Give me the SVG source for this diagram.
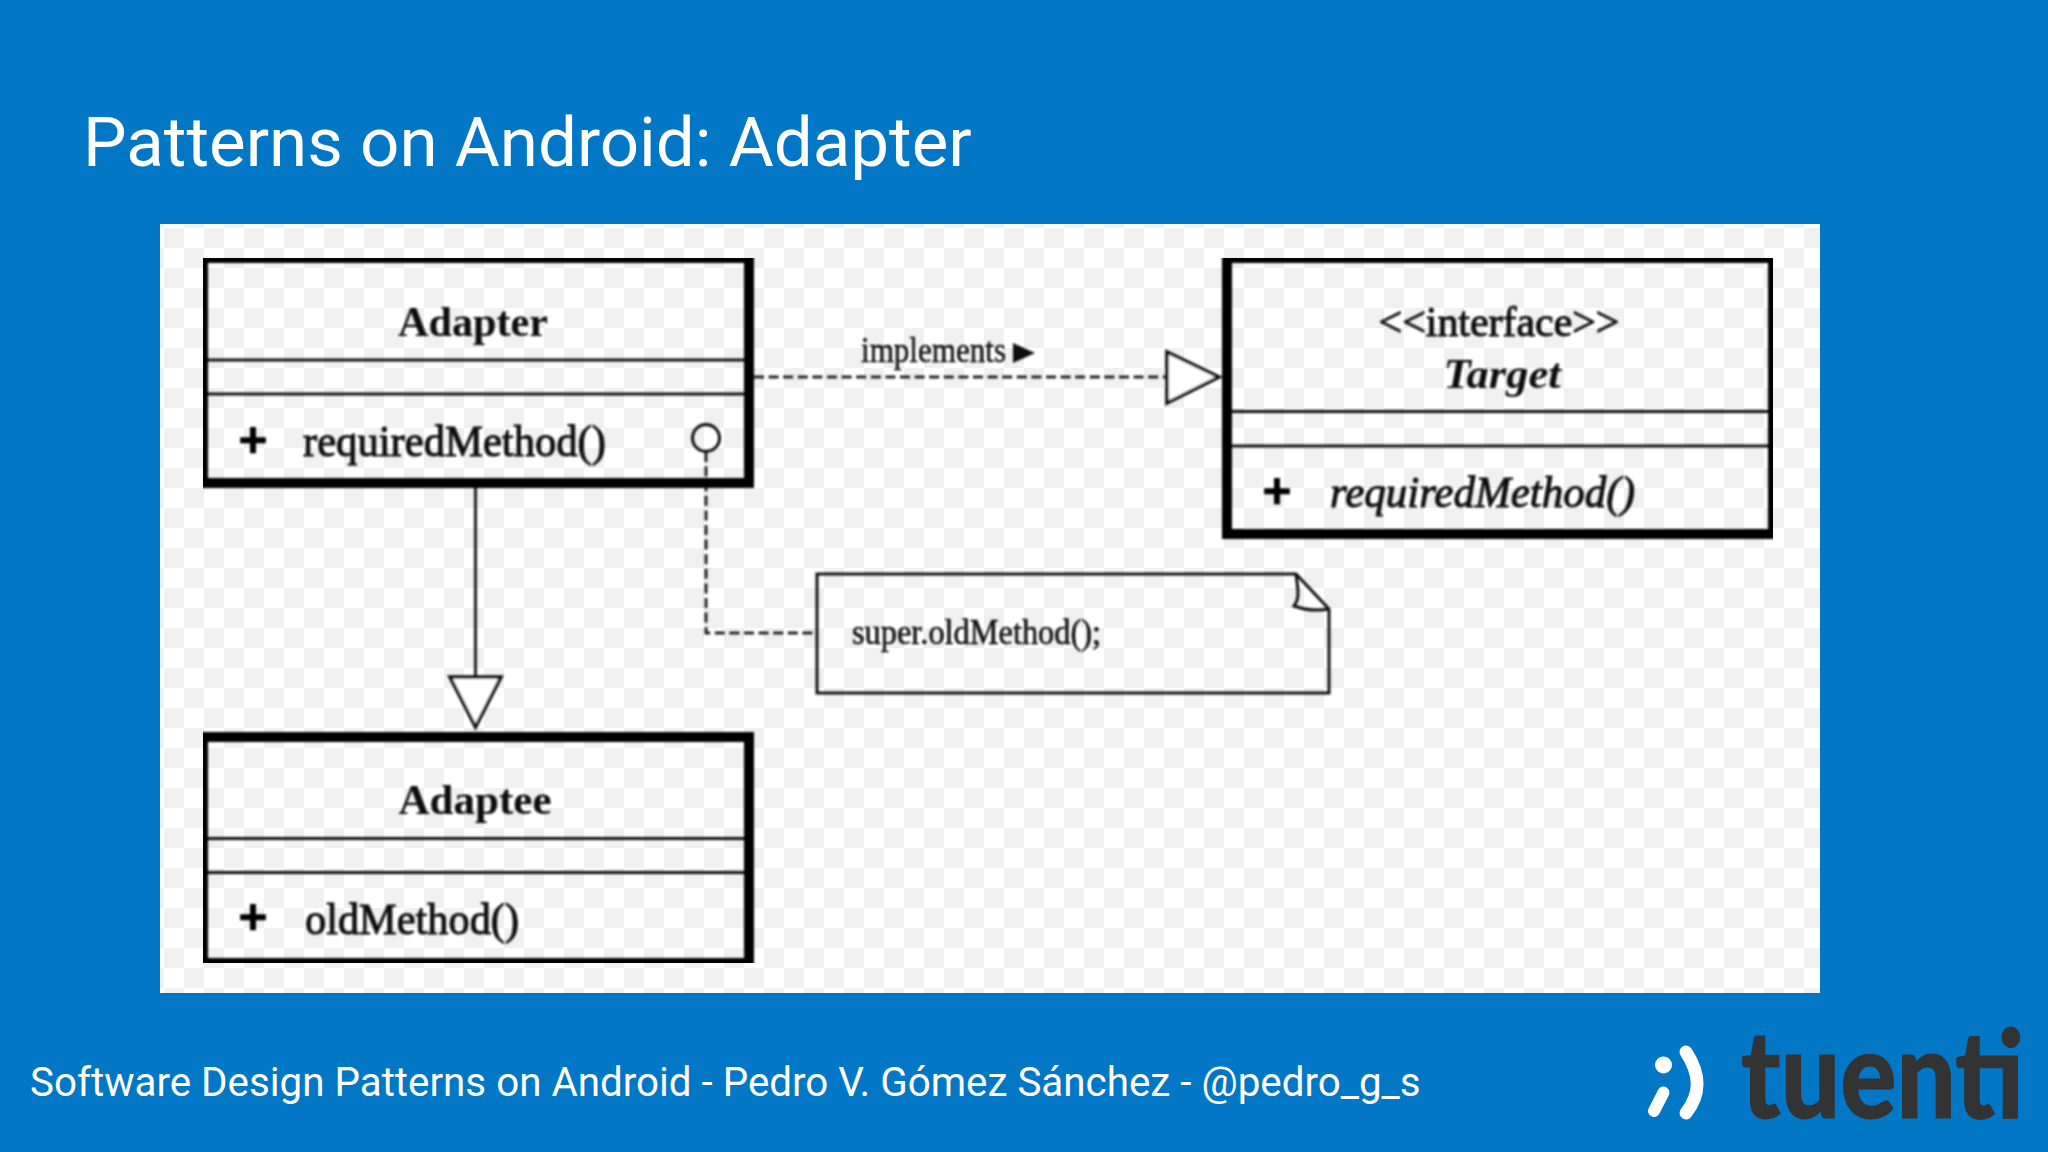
<svg xmlns="http://www.w3.org/2000/svg" width="2048" height="1152" viewBox="0 0 2048 1152">
<style>
.box{fill:none;stroke:#000;stroke-width:10}
.sep{stroke:#111;stroke-width:3;fill:none}
.con{stroke:#222;stroke-width:3;fill:none}
.dash{stroke-dasharray:10 4.6}
.head{fill:#fff;stroke:#111;stroke-width:3.5}
.s{font-family:"Liberation Serif",serif;fill:#0a0a0a}
.b{font-weight:700}
.m{stroke:#0a0a0a;stroke-width:1}
.p{stroke:#000;stroke-width:2.5}
.r{font-family:Roboto,sans-serif;fill:#fff}
</style>
<defs>
<pattern id="ck" width="40" height="40" patternUnits="userSpaceOnUse" x="164" y="228">
<rect width="40" height="40" fill="#fff"/>
<rect width="20" height="20" fill="#f1f1f1"/>
<rect x="20" y="20" width="20" height="20" fill="#f1f1f1"/>
</pattern>
<filter id="soft" x="0" y="0" width="1" height="1"><feGaussianBlur stdDeviation="0.8"/></filter>
</defs>
<rect width="2048" height="1152" fill="#0277c6"/>
<text id="title" class="r" x="83" y="166" font-size="69.1">Patterns on Android: Adapter</text>
<rect x="160" y="224" width="1660" height="769" fill="url(#ck)"/>
<g filter="url(#soft)">
<g id="connectors">
<path class="con dash" d="M754 377H1166"/>
<path class="head" d="M1167 352V403L1219 377Z"/>
<path class="con" d="M475.500 488V677"/>
<path class="head" d="M450 677H501L475.500 727Z"/>
<circle cx="706" cy="438" r="13.500" fill="none" stroke="#111" stroke-width="3"/>
<path class="con dash" d="M706 452V633H817"/>
</g>
<g id="adapter">
<rect class="box" x="203" y="258" width="546" height="225"/>
<path class="sep" d="M208 360H744M208 394H744"/>
<text class="s b" x="473" y="336" font-size="42" text-anchor="middle" textLength="150" lengthAdjust="spacingAndGlyphs">Adapter</text>
<text class="s b p" x="253" y="457" font-size="50" text-anchor="middle">+</text>
<text class="s m" x="303" y="456" font-size="44" textLength="303" lengthAdjust="spacingAndGlyphs">requiredMethod()</text>
</g>
<g id="target">
<rect class="box" x="1227" y="258" width="546" height="276"/>
<path class="sep" d="M1232 411.500H1768M1232 446H1768"/>
<text class="s m" x="1499" y="336" font-size="42" text-anchor="middle" textLength="241" lengthAdjust="spacingAndGlyphs">&lt;&lt;interface&gt;&gt;</text>
<text class="s b" x="1502" y="388" font-size="42" font-style="italic" text-anchor="middle" textLength="117" lengthAdjust="spacingAndGlyphs">Target</text>
<text class="s b p" x="1277" y="508" font-size="50" text-anchor="middle">+</text>
<text class="s m" x="1330" y="507" font-size="44" font-style="italic" textLength="305" lengthAdjust="spacingAndGlyphs">requiredMethod()</text>
</g>
<g id="adaptee">
<rect class="box" x="203" y="737" width="546" height="226"/>
<path class="sep" d="M208 838.500H744M208 872.500H744"/>
<text class="s b" x="475" y="814" font-size="42" text-anchor="middle" textLength="153" lengthAdjust="spacingAndGlyphs">Adaptee</text>
<text class="s b p" x="253" y="934" font-size="50" text-anchor="middle">+</text>
<text class="s m" x="305" y="934" font-size="44" textLength="214" lengthAdjust="spacingAndGlyphs">oldMethod()</text>
</g>
<g id="note">
<path d="M817 574H1296L1329 609V693H817Z" fill="none" stroke="#111" stroke-width="3"/>
<path d="M1296 574C1298 590 1300 598 1294 606C1308 611 1318 611 1329 609" fill="none" stroke="#111" stroke-width="3"/>
<text class="s" x="852" y="644" font-size="36" stroke="#0a0a0a" stroke-width=".5" textLength="249" lengthAdjust="spacingAndGlyphs">super.oldMethod();</text>
</g>
<text id="impl" class="s" x="861" y="362" font-size="36" stroke="#0a0a0a" stroke-width=".5" textLength="145" lengthAdjust="spacingAndGlyphs">implements</text>
<path id="impl-arrow" d="M1013 343V363L1035 353Z" fill="#111"/>
</g>
<text id="footer" class="r" x="30" y="1096" font-size="40.350">Software Design Patterns on Android - Pedro V. Gómez Sánchez - @pedro_g_s</text>
<g id="logo">
<circle cx="1663.500" cy="1065" r="8.500" fill="#fff"/>
<path d="M1663.500 1092.500L1654 1111" stroke="#fff" stroke-width="12" stroke-linecap="round" fill="none"/>
<path d="M1686 1052C1701 1075 1701 1094 1686 1113" stroke="#fff" stroke-width="13" stroke-linecap="round" fill="none"/>
<text x="1741" y="1118" font-family="Lato,sans-serif" font-weight="900" font-size="122" fill="#333" stroke="#333" stroke-width="1" textLength="283" lengthAdjust="spacingAndGlyphs">tuenti</text>
</g>
</svg>
